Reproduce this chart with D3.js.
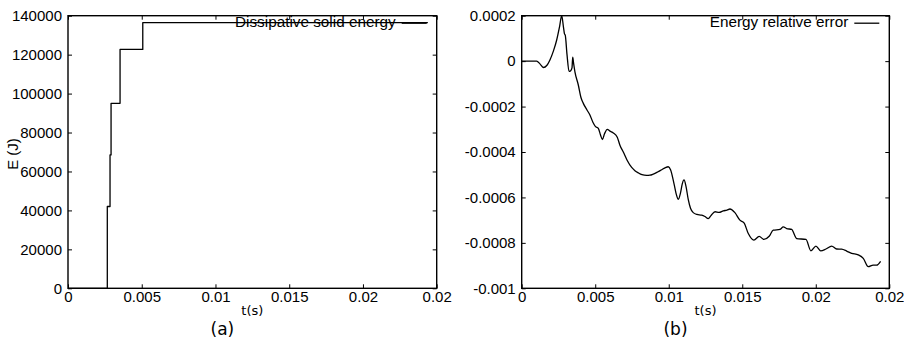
<!DOCTYPE html>
<html><head><meta charset="utf-8">
<script src="https://cdn.jsdelivr.net/npm/d3@7"></script>
<style>
body{margin:0;background:#fff;}
svg{display:block;}
.tick text{font-family:"Liberation Sans",Arial,sans-serif;font-size:15px;fill:#000;}
</style></head>
<body>
<svg id="c" width="904" height="342"></svg>
<script>
// ---- Panel (a): dissipative solid energy (step function)
const tA = [0, 0.002665, 0.00285, 0.00292, 0.00353, 0.00507, 0.0244];
const eA = [0, 42000, 68500, 95000, 122700, 136400, 136400];
const xTickValsA = [0, 0.005, 0.01, 0.015, 0.02, 0.025];
const xTickLabels = ["0", "0.005", "0.01", "0.015", "0.02", "0.02"];
const yTickValsA = [0, 20000, 40000, 60000, 80000, 100000, 120000, 140000];
const yTickLabelsA = ["0", "20000", "40000", "60000", "80000", "100000", "120000", "140000"];

// ---- Panel (b): energy relative error
const tB = [0, 0.00102, 0.00124, 0.00147, 0.00172, 0.00192, 0.00216, 0.00238, 0.00257, 0.00272,
  0.00284, 0.00291, 0.00296, 0.00308, 0.00322, 0.00333, 0.00342, 0.00347, 0.00353, 0.00362,
  0.00385, 0.00403, 0.00419, 0.00444, 0.00464, 0.00485, 0.00502, 0.00521, 0.00536, 0.00549,
  0.00563, 0.00582, 0.006, 0.00623, 0.0065, 0.00668, 0.00691, 0.00716, 0.00748, 0.0077,
  0.00793, 0.00818, 0.0085, 0.00872, 0.00895, 0.00924, 0.00952, 0.00974, 0.00997, 0.01013,
  0.01036, 0.01053, 0.01065, 0.0108, 0.01092, 0.01104, 0.01117, 0.01133, 0.01148, 0.01167,
  0.01192, 0.01224, 0.01246, 0.01269, 0.01287, 0.01315, 0.01342, 0.01371, 0.01396, 0.01416,
  0.0145, 0.01484, 0.01512, 0.01541, 0.01579, 0.01615, 0.01647, 0.01683, 0.01711, 0.01756,
  0.01779, 0.01802, 0.01836, 0.0187, 0.01933, 0.01967, 0.02001, 0.02033, 0.02069, 0.02108,
  0.02142, 0.02176, 0.0221, 0.02244, 0.02289, 0.02323, 0.02357, 0.0239, 0.02414, 0.02441];
const errB = [0, 0, -0.000012, -0.000028, -0.000018, 0.000005, 0.000045, 0.000093, 0.00015, 0.0002,
  0.00015, 0.00012, 0.000115, 0.00003, -0.000045, -0.000042, -0.00003, 0.000017, -0.00001, -0.000047,
  -0.000105, -0.00016, -0.000186, -0.000215, -0.000237, -0.00027, -0.000288, -0.000296, -0.000325, -0.000345,
  -0.00032, -0.0003, -0.000308, -0.000316, -0.000335, -0.00037, -0.0004, -0.000435, -0.000468, -0.000482,
  -0.000492, -0.0005, -0.000503, -0.000502, -0.000497, -0.000488, -0.000478, -0.00047, -0.000465, -0.000479,
  -0.00054, -0.00059, -0.000608, -0.00058, -0.00054, -0.000523, -0.00055, -0.00061, -0.000648, -0.000667,
  -0.000675, -0.000678, -0.000684, -0.000693, -0.00068, -0.000663, -0.000666, -0.000659, -0.000656, -0.000651,
  -0.000667, -0.0007, -0.000712, -0.000759, -0.000788, -0.000771, -0.000785, -0.000771, -0.000744, -0.000741,
  -0.00073, -0.000737, -0.000741, -0.000781, -0.000785, -0.000835, -0.000814, -0.000835, -0.000827, -0.000814,
  -0.000827, -0.000828, -0.000836, -0.000846, -0.000853, -0.000868, -0.000905, -0.000898, -0.000898, -0.000881];
const yTickValsB = [-0.001, -0.0008, -0.0006, -0.0004, -0.0002, 0, 0.0002];
const yTickLabelsB = ["-0.001", "-0.0008", "-0.0006", "-0.0004", "-0.0002", "0", "0.0002"];

const svg = d3.select("#c");

function panel(opts) {
  const {left, right, top, bottom, xDomain, yDomain, xt, xl, yt, yl, data, curve, legend, caption} = opts;
  const x = d3.scaleLinear().domain(xDomain).range([left, right]);
  const y = d3.scaleLinear().domain(yDomain).range([bottom, top]);
  const g = svg.append("g");
  const fmt = (vals, labels) => (d) => labels[vals.indexOf(d)];

  const gb = g.append("g").attr("transform", `translate(0,${bottom})`)
    .call(d3.axisBottom(x).tickValues(xt).tickFormat(fmt(xt, xl)).tickSizeInner(-4).tickSizeOuter(0).tickPadding(3));
  const gt = g.append("g").attr("transform", `translate(0,${top})`)
    .call(d3.axisTop(x).tickValues(xt).tickFormat("").tickSizeInner(-4).tickSizeOuter(0));
  const gl = g.append("g").attr("transform", `translate(${left},0)`)
    .call(d3.axisLeft(y).tickValues(yt).tickFormat(fmt(yt, yl)).tickSizeInner(-4).tickSizeOuter(0).tickPadding(6));
  const gr = g.append("g").attr("transform", `translate(${right},0)`)
    .call(d3.axisRight(y).tickValues(yt).tickFormat("").tickSizeInner(-4).tickSizeOuter(0));
  [gb, gt, gl, gr].forEach(a => {
    a.select(".domain").remove();
    a.selectAll(".tick line").attr("stroke", "#000").attr("stroke-width", 1);
    a.attr("font-family", null).attr("font-size", null);
  });

  g.append("rect").attr("x", left).attr("y", top).attr("width", right - left).attr("height", bottom - top)
    .attr("fill", "none").attr("stroke", "#000").attr("stroke-width", 1.4);

  g.append("text").attr("x", right - 41).attr("y", top + 11.5).attr("text-anchor", "end")
    .attr("font-family", "Liberation Sans, Arial, sans-serif").attr("font-size", 15.3).text(legend);
  g.append("line").attr("x1", right - 35).attr("x2", right - 10).attr("y1", top + 7.5).attr("y2", top + 7.5)
    .attr("stroke", "#000").attr("stroke-width", 1.3);

  const line = d3.line().x(d => x(d[0])).y(d => y(d[1])).curve(curve);
  g.append("path").datum(data).attr("d", line).attr("fill", "none").attr("stroke", "#000")
    .attr("stroke-width", 1.3).attr("stroke-linejoin", "round");

  const cx = (left + right) / 2;
  g.append("text").attr("x", cx).attr("y", 315).attr("text-anchor", "middle")
    .attr("font-family", "DejaVu Sans, sans-serif").attr("font-size", 13).text("t(s)");
  g.append("text").attr("x", cx - 30).attr("y", 335).attr("text-anchor", "middle")
    .attr("font-family", "DejaVu Sans, sans-serif").attr("font-size", 17).text(caption);
  return {x, y, g};
}

const pa = panel({
  left: 68, right: 436.7, top: 15.7, bottom: 288.3,
  xDomain: [0, 0.025], yDomain: [0, 140000],
  xt: xTickValsA, xl: xTickLabels, yt: yTickValsA, yl: yTickLabelsA,
  data: tA.map((t, i) => [t, eA[i]]), curve: d3.curveStepAfter,
  legend: "Dissipative solid energy", caption: "(a)"
});
pa.g.append("text").attr("transform", "translate(18,154) rotate(-90)").attr("text-anchor", "middle")
  .attr("font-family", "Liberation Sans, Arial, sans-serif").attr("font-size", 15).text("E (J)");

panel({
  left: 521.7, right: 889.3, top: 15.7, bottom: 288.3,
  xDomain: [0, 0.025], yDomain: [-0.001, 0.0002],
  xt: xTickValsA, xl: xTickLabels, yt: yTickValsB, yl: yTickLabelsB,
  data: tB.map((t, i) => [t, errB[i]]), curve: d3.curveMonotoneX,
  legend: "Energy relative error", caption: "(b)"
});
</script>
</body></html>
